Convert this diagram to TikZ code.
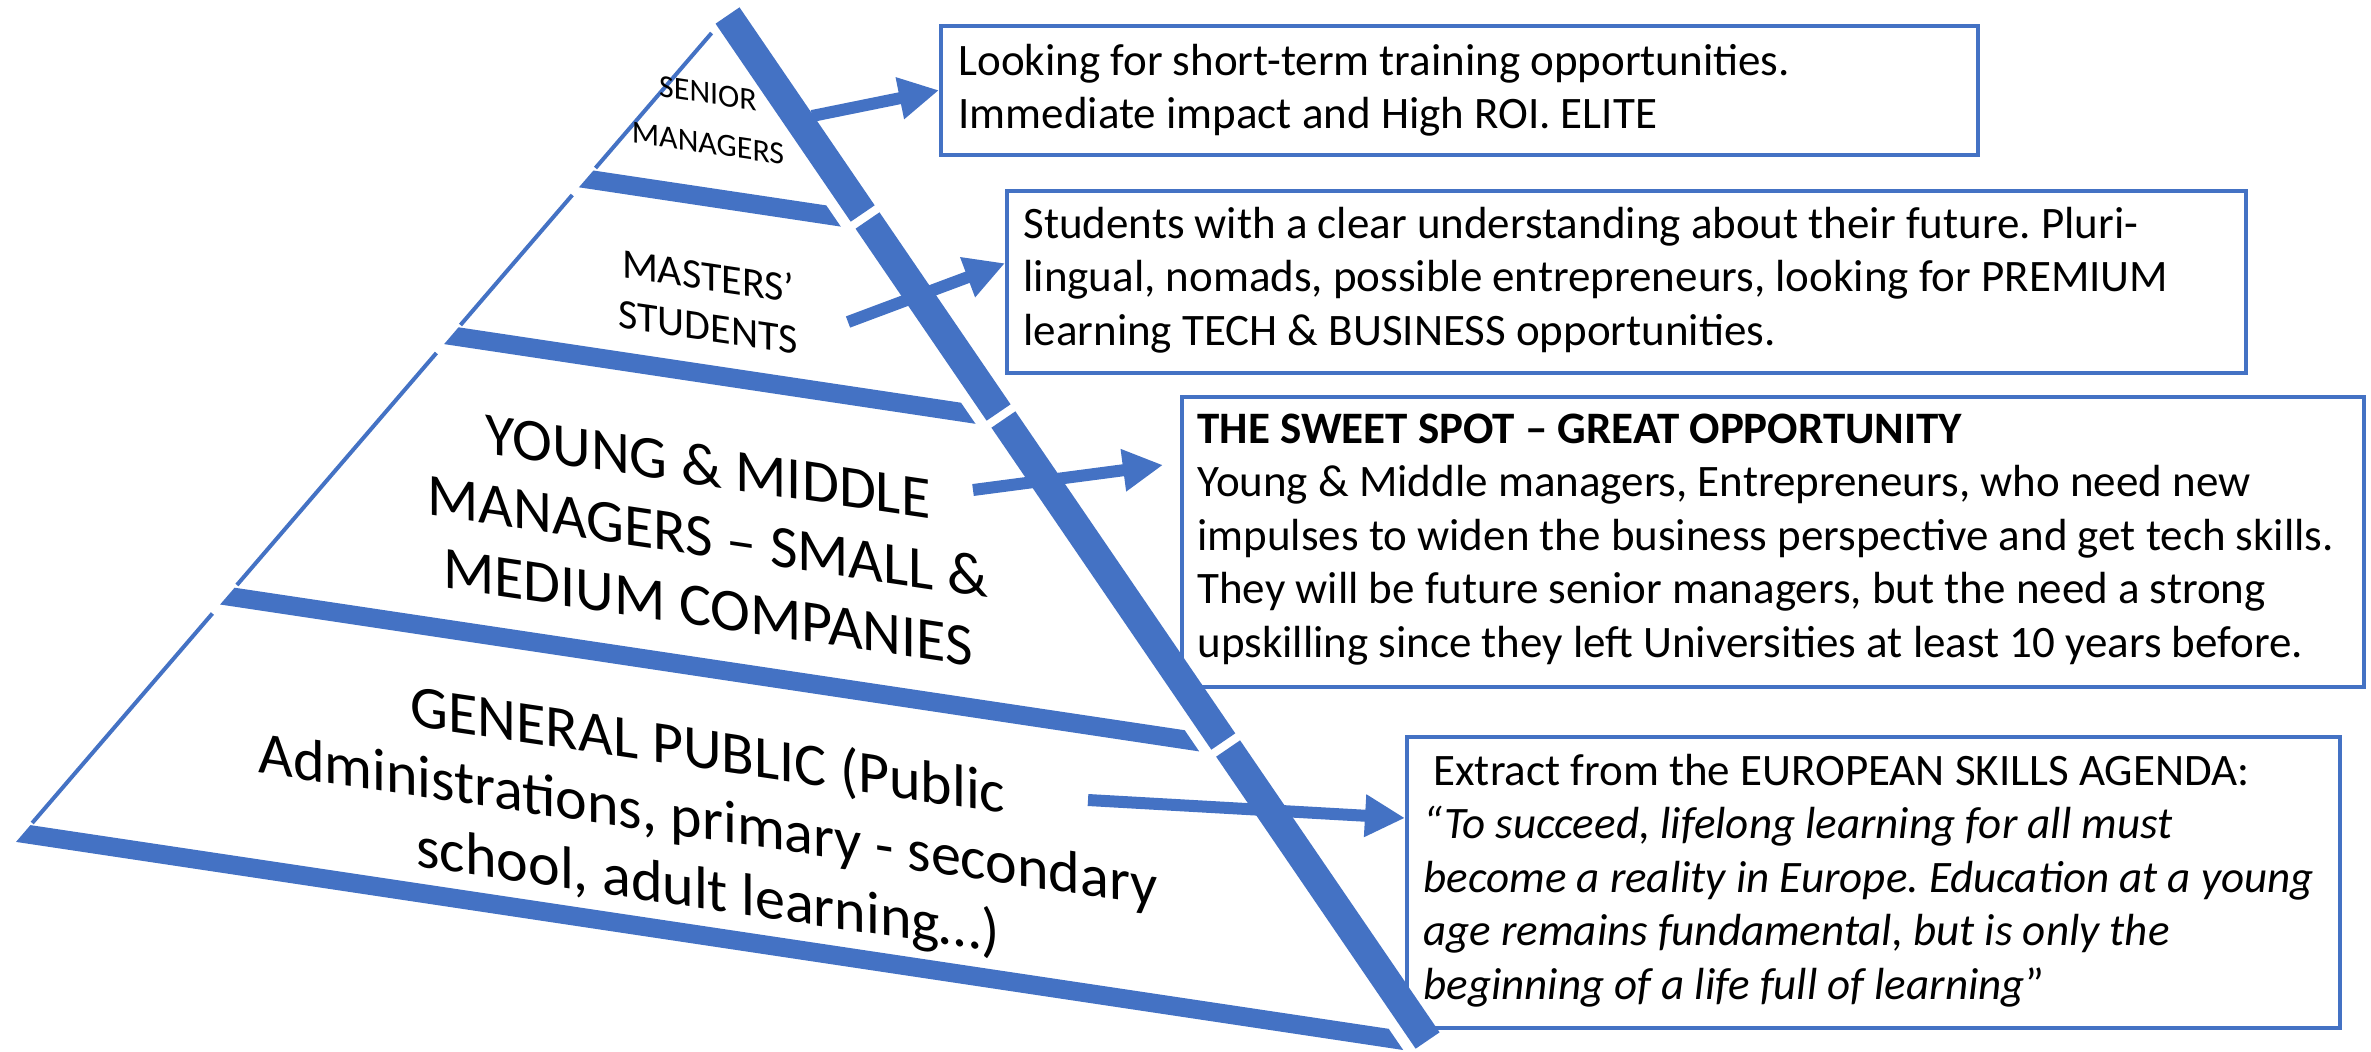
\documentclass[tikz,border=0pt]{standalone}
\usepackage{fontspec}
\setmainfont{Carlito}
\frenchspacing
\usetikzlibrary{arrows.meta,calc}
\definecolor{pblue}{RGB}{68,114,196}
\tikzset{
  lbl/.style={anchor=base, align=center, inner sep=0pt, yslant=-0.148, text=black},
  boxtxt/.style={anchor=base west, align=left, inner sep=0pt, text=black,
    font=\fontsize{22.5pt}{26.75pt}\selectfont},
  infobox/.style={draw=pblue, line width=1.75pt, inner sep=0pt, anchor=north west},
  arr/.style={draw=pblue, line width=6pt, -{Triangle[length=20pt,width=20pt]}},
  thinedge/.style={draw=pblue, line width=2pt},
  rband/.style={draw=pblue, line width=14.5pt},
  tierband/.style={fill=pblue},
}
\begin{document}
\frenchspacing
\begin{tikzpicture}[x=0.5pt,y=-0.5pt]
\useasboundingbox (0,0) rectangle (2371,1051);

% right edge of the pyramid (thick, broken)
\draw[rband] (727.5,15.5) -- (862.7,213.5);
\draw[rband] (867.5,220.5) -- (998.6,412.5);
\draw[rband] (1003.4,419.5) -- (1223.3,741.5);
\draw[rband] (1228.1,748.5) -- (1427.6,1040.5);

% tier bottom bands
\fill[tierband] (593.4,170.5) -- (826.3,205.4) -- (840.8,226.6) -- (578.9,187.3) -- cycle;
\fill[tierband] (458.5,327.3) -- (961.0,402.7) -- (975.5,423.8) -- (444.1,344.1) -- cycle;
\fill[tierband] (234.6,587.7) -- (1184.7,730.2) -- (1199.2,751.4) -- (220.1,604.5) -- cycle;
\fill[tierband] (30.4,825.1) -- (1388.7,1028.8) -- (1403.2,1050.0) -- (16.0,841.9) -- cycle;

% left edge (thin, broken)
\draw[thinedge] (711.6,33) -- (595.5,168);
\draw[thinedge] (572.3,195) -- (460.5,325);
\draw[thinedge] (436.4,353) -- (236.9,585);
\draw[thinedge] (212.4,613.5) -- (32.2,823);

% tier labels (anchored on the baseline of the last line)
\node[lbl, font=\fontsize{16pt}{25pt}\selectfont] (senior) at (708,153.5) {SENIOR\\MANAGERS};
\node[lbl, font=\fontsize{21pt}{25.5pt}\selectfont] (masters) at (708,341) {MASTERS’\\STUDENTS};
\node[lbl, font=\fontsize{30pt}{35.25pt}\selectfont] (young) at (708,627) {YOUNG \& MIDDLE\\MANAGERS – SMALL \&\\MEDIUM COMPANIES};
\node[lbl, font=\fontsize{30pt}{35pt}\selectfont] (general) at (708,909.5) {GENERAL PUBLIC (Public\\Administrations, primary - secondary\\school, adult learning…)};

% boxes
\node[infobox, minimum width=518.5pt, minimum height=64.5pt] (b1) at (939,24) {};
\node[infobox, minimum width=619.5pt, minimum height=91pt] (b2) at (1005,189) {};
\node[infobox, minimum width=591pt, minimum height=145pt] (b3) at (1180,395) {};
\node[infobox, minimum width=466.5pt, minimum height=145.5pt] (b4) at (1405,735) {};

% box texts (anchored on the baseline of the last line)
\node[boxtxt] (t1) at (958,128.5) {Looking for short-term training opportunities.\\Immediate impact and High ROI. ELITE};
\node[boxtxt] (t2) at (1023,345) {Students with a clear understanding about their future. Pluri-\\lingual, nomads, possible entrepreneurs, looking for PREMIUM\\learning TECH \& BUSINESS opportunities.};
\node[boxtxt] (t3) at (1197,657) {\textbf{THE SWEET SPOT – GREAT OPPORTUNITY}\\Young \& Middle managers, Entrepreneurs, who need new\\impulses to widen the business perspective and get tech skills.\\They will be future senior managers, but the need a strong\\upskilling since they left Universities at least 10 years before.};
\node[boxtxt] (t4) at (1423,999) {\hspace*{5pt}Extract from the EUROPEAN SKILLS AGENDA:\\\textit{“To succeed, lifelong learning for all must}\\\textit{become a reality in Europe. Education at a young}\\\textit{age remains fundamental, but is only the}\\\textit{beginning of a life full of learning}”};

% arrows
\coordinate (s1) at (812,116);
\coordinate (s2) at (848,322);
\coordinate (s3) at (973,490);
\coordinate (s4) at (1088,800);
\coordinate (e2) at ($(b2.north west)!0.4!(b2.south west)$);
\coordinate (e3) at ($(b3.north west)+(-17,70)$);
\coordinate (e4) at ($(b4.north west)+(0,83)$);
\draw[arr] (s1) -- (b1.west);
\draw[arr] (s2) -- (e2);
\draw[arr] (s3) -- (e3);
\draw[arr] (s4) -- (e4);
\end{tikzpicture}
\end{document}
